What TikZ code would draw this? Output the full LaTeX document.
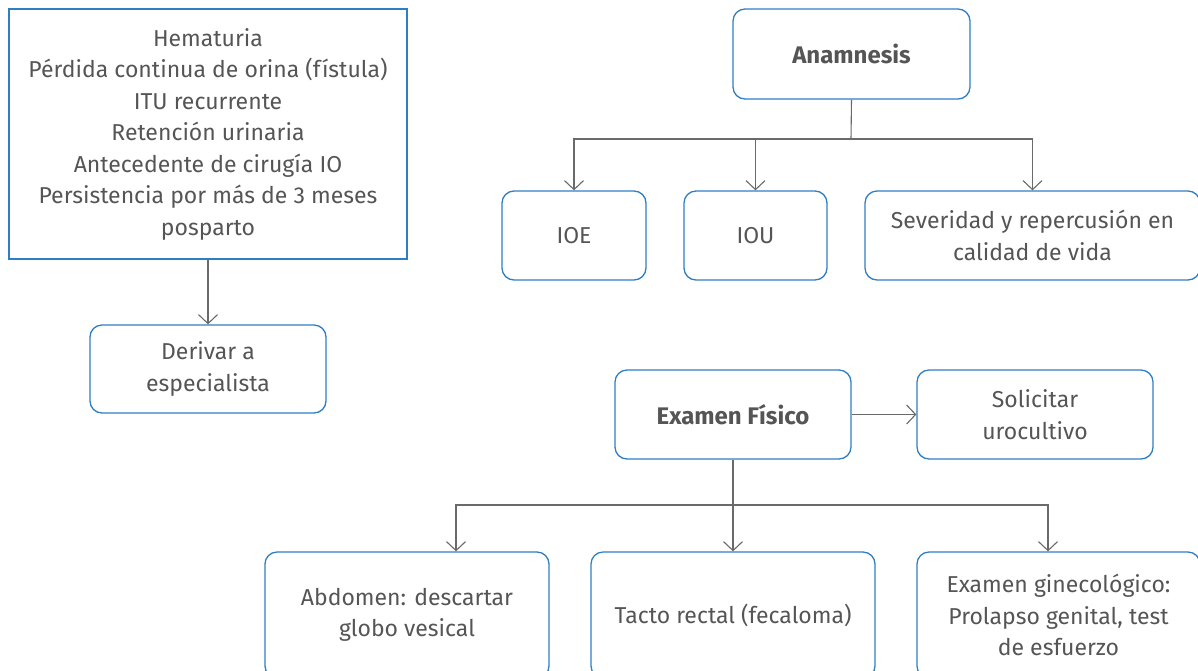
\documentclass[tikz,border=0pt]{standalone}
\usepackage{fontspec}
\setmainfont{Fira Sans}
\usetikzlibrary{arrows.meta}
\definecolor{boxblue}{HTML}{2F7EC2}
\definecolor{txtgrey}{HTML}{555555}
\definecolor{lngrey}{HTML}{6A6A6A}
\begin{document}
\begin{tikzpicture}[x=1pt,y=-1pt,
  box/.style={draw=boxblue, line width=1.3pt, rounded corners=12pt, align=center,
    text=txtgrey, font=\fontsize{23}{31.5}\selectfont, inner sep=4pt},
  sqbox/.style={box, rounded corners=0pt},
  head/.style={box, font=\fontsize{24}{31.5}\selectfont\bfseries},
  conn/.style={draw=lngrey, line width=1.1pt},
  arr/.style={conn, -{Straight Barb[length=9pt,width=19pt,line width=1.1pt]}}]
\useasboundingbox (0,0) rectangle (1198,670);
\clip (0,0) rectangle (1198,670);

% left column
\node[sqbox, minimum width=398pt, minimum height=250pt] (sym) at (208,134)
  {Hematuria\\Pérdida continua de orina (fístula)\\ITU recurrente\\Retención urinaria\\Antecedente de cirugía IO\\Persistencia por más de 3 meses\\posparto};
\node[box, minimum width=236pt, minimum height=88pt] (der) at (208,369) {Derivar a\\especialista};
\draw[arr] (sym.south) -- (der.north);

% anamnesis branch
\node[head, minimum width=237pt, minimum height=90pt] (anam) at (851.5,54) {Anamnesis};
\node[box, minimum width=144pt, minimum height=89pt] (ioe) at (574,235.5) {IOE};
\node[box, minimum width=143pt, minimum height=89pt] (iou) at (755.5,235.5) {IOU};
\node[box, minimum width=335pt, minimum height=89pt] (sev) at (1032.5,235.5) {Severidad y repercusión en\\calidad de vida};
\coordinate (aj) at (851,139);
\draw[conn] (anam.south) -- (aj);
\draw[arr] (aj) -| (ioe.north);
\draw[arr] (aj) -| (iou.north);
\draw[arr] (aj) -| (sev.north);

% physical examination branch
\node[head, minimum width=236pt, minimum height=89pt] (exf) at (733,414.5) {Examen Físico};
\node[box, minimum width=236pt, minimum height=89pt] (sol) at (1035,414.5) {Solicitar\\urocultivo};
\draw[arr] (exf.east) -- (sol.west);
\node[box, minimum width=284pt, minimum height=126pt] (abd) at (407,615) {Abdomen: descartar\\globo vesical};
\node[box, minimum width=284pt, minimum height=126pt] (tac) at (733,615) {Tacto rectal (fecaloma)};
\node[box, minimum width=283pt, minimum height=126pt] (gin) at (1058.5,615) {Examen ginecológico:\\Prolapso genital, test\\de esfuerzo};
\coordinate (ej) at (733,505);
\coordinate (xa) at (456,0);
\coordinate (xg) at (1048,0);
\draw[conn] (exf.south) -- (ej);
\draw[arr] (ej) -| (abd.north -| xa);
\draw[arr] (ej) -- (tac.north);
\draw[arr] (ej) -| (gin.north -| xg);
\end{tikzpicture}
\end{document}
